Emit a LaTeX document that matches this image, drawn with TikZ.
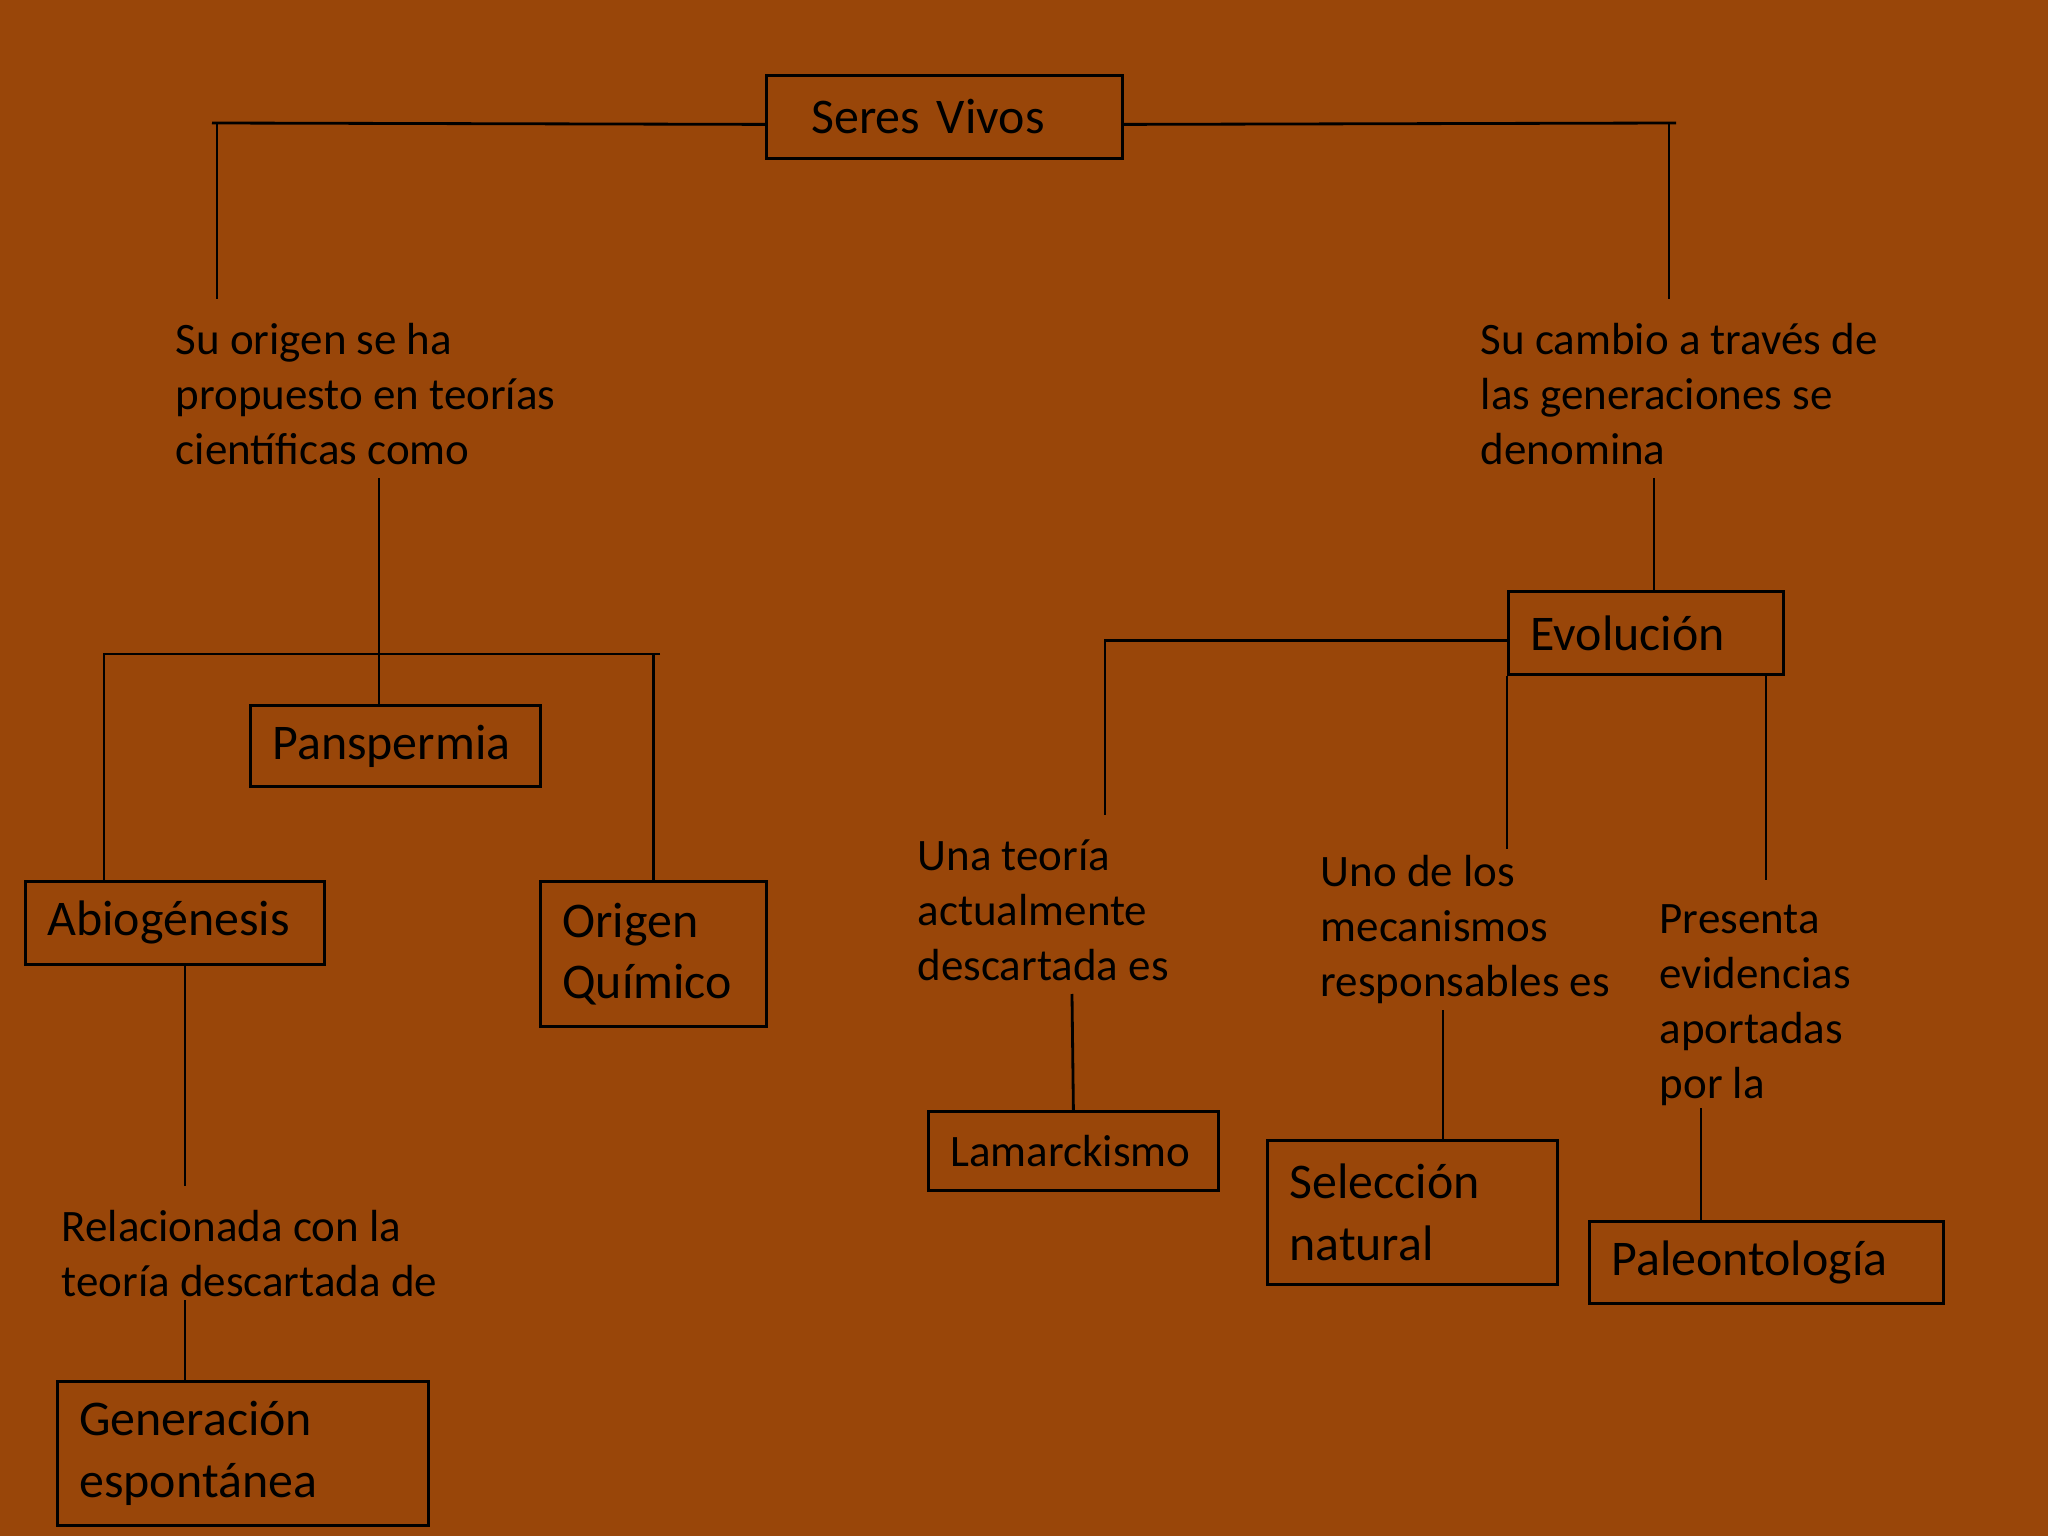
\documentclass[tikz,border=0pt]{standalone}
\usepackage{fontspec}
\setmainfont{Carlito}
\usepackage{xcolor}
\usepackage{tikz}
\definecolor{fondo}{RGB}{153,70,9}

\begin{document}
\begin{tikzpicture}[
    concepto/.style={rectangle, draw, line width=0.8pt, anchor=north west, align=left, inner xsep=0.22cm, inner ysep=0pt, font=\fontsize{14.2}{17.4}\selectfont},
    etiqueta/.style={anchor=north west, align=left, inner sep=0pt, font=\fontsize{12.8}{15.6}\selectfont},
    linea/.style={line width=0.8pt}
]
\fill[fondo] (0,0) rectangle (20.48,-15.36);
\useasboundingbox (0,0) rectangle (20.48,-15.36);

% Conceptos
\node[concepto, inner xsep=0.45cm, text width=2.66cm, minimum height=0.83cm] (seres) at (7.65,-0.74) {Seres Vivos};
\node[concepto, text width=2.46cm, minimum height=0.81cm] (panspermia) at (2.49,-7.04) {Panspermia};
\node[concepto, text width=2.55cm, minimum height=0.83cm] (abiogenesis) at (0.24,-8.80) {Abiogénesis};
\node[concepto, text width=1.82cm, minimum height=1.45cm] (origen) at (5.39,-8.80) {Origen\\Químico};
\node[concepto, text width=3.27cm, minimum height=1.44cm] (generacion) at (0.56,-13.80) {Generación\\espontánea};
\node[concepto, text width=2.31cm, minimum height=0.83cm] (evolucion) at (15.07,-5.90) {Evolución};
\node[concepto, text width=2.46cm, minimum height=0.79cm, font=\fontsize{12.8}{15.6}\selectfont] (lamarckismo) at (9.27,-11.10) {Lamarckismo};
\node[concepto, text width=2.46cm, minimum height=1.44cm] (seleccion) at (12.66,-11.39) {Selección\\natural};
\node[concepto, text width=3.10cm, minimum height=0.82cm] (paleontologia) at (15.88,-12.20) {Paleontología};

% Textos de enlace
\node[etiqueta] (txtOrigen) at (1.75,-3.23) {Su origen se ha\\propuesto en teorías\\científicas como};
\node[etiqueta] (txtCambio) at (14.80,-3.23) {Su cambio a través de\\las generaciones se\\denomina};
\node[etiqueta] (txtRelacion) at (0.61,-12.10) {Relacionada con la\\teoría descartada de};
\node[etiqueta] (txtTeoria) at (9.17,-8.39) {Una teoría\\actualmente\\descartada es};
\node[etiqueta] (txtMecanismo) at (13.20,-8.55) {Uno de los\\mecanismos\\responsables es};
\node[etiqueta] (txtEvidencia) at (16.59,-9.04) {Presenta\\evidencias\\aportadas\\por la};

% Extremos libres
\coordinate (barraIzq) at (2.12,-1.23);
\coordinate (origenArriba) at (2.17,-2.99);
\coordinate (barraDer) at (16.76,-1.23);
\coordinate (cambioArriba) at (16.69,-2.99);
\coordinate (origenAbajo) at (3.79,-4.78);
\coordinate (ramaIzq) at (1.04,-6.54);
\coordinate (ramaDer) at (6.60,-6.54);
\coordinate (abioAbajo) at (1.85,-11.86);
\coordinate (relacionAbajo) at (1.85,-13.00);
\coordinate (cambioAbajo) at (16.54,-4.78);
\coordinate (teoriaArriba) at (11.05,-8.15);
\coordinate (teoriaAbajo) at (10.72,-9.94);
\coordinate (mecanismoArriba) at (15.07,-8.49);
\coordinate (mecanismoAbajo) at (14.43,-10.10);
\coordinate (evidenciaArriba) at (17.66,-8.80);
\coordinate (evidenciaAbajo) at (17.01,-11.08);

% Conectores
\draw[linea] ([yshift=-0.075cm]seres.west) -- (barraIzq);
\draw[linea] (barraIzq -| origenArriba) -- (origenArriba);
\draw[linea] ([yshift=-0.075cm]seres.east) -- (barraDer);
\draw[linea] (barraDer -| cambioArriba) -- (cambioArriba);

\draw[linea] (origenAbajo) -- (origenAbajo |- panspermia.north);
\draw[linea] (ramaDer) -- (ramaIzq) -- (ramaIzq |- abiogenesis.north);
\draw[linea] (origen.north |- ramaDer) -- (origen.north);
\draw[linea] (abioAbajo |- abiogenesis.south) -- (abioAbajo);
\draw[linea] (relacionAbajo) -- (relacionAbajo |- generacion.north);

\draw[linea] (cambioAbajo) -- (cambioAbajo |- evolucion.north);
\draw[linea] ([yshift=-0.075cm]evolucion.west) -| (teoriaArriba);
\draw[linea] (teoriaAbajo) -- (lamarckismo.north);
\draw[linea] (evolucion.south west) -- (mecanismoArriba);
\draw[linea] (mecanismoAbajo) -- (mecanismoAbajo |- seleccion.north);
\draw[linea] (evidenciaArriba |- evolucion.south) -- (evidenciaArriba);
\draw[linea] (evidenciaAbajo) -- (evidenciaAbajo |- paleontologia.north);
\end{tikzpicture}
\end{document}
